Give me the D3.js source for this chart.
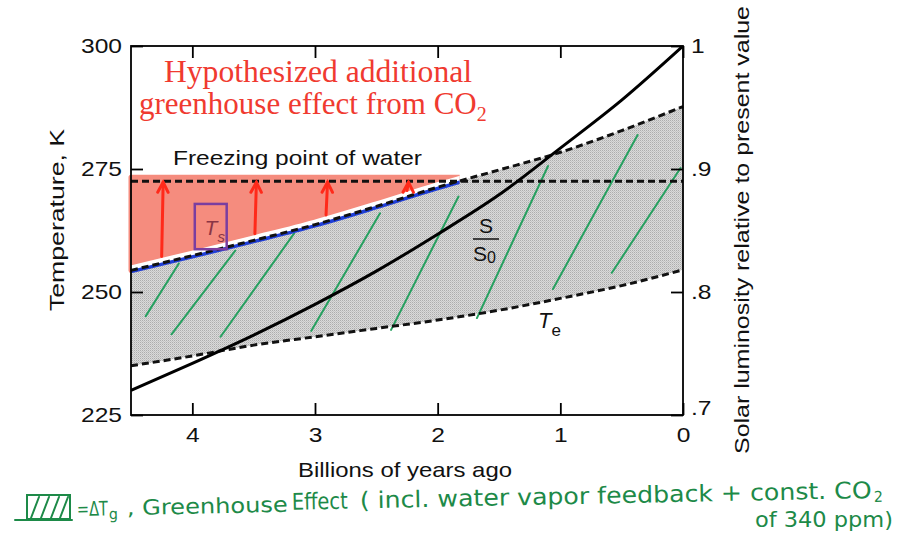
<!DOCTYPE html>
<html>
<head>
<meta charset="utf-8">
<script src="https://cdn.jsdelivr.net/npm/d3@7"></script>
<style>
  body { margin: 0; background: #fff; }
  text { font-family: "Liberation Sans", Arial, sans-serif; }
  text.serif { font-family: "Liberation Serif", "Times New Roman", serif; }
  text.hand { font-family: "DejaVu Sans Condensed", "Liberation Sans Narrow", "Liberation Sans", sans-serif; }
</style>
</head>
<body>
<div id="chart"></div>
<script>
// data
var years = [4.5, 4, 3.5, 3, 2.5, 2, 1.5, 1, 0.5, 0];
var surfaceTemp = [254.4, 257.4, 260.5, 263.7, 267.4, 271.3, 274.8, 278.4, 282.8, 287.7];   // Ts, K
var effectiveTemp = [235, 237, 239.2, 240.9, 242.6, 244.3, 246.3, 248.7, 251.3, 254.5];     // Te, K
var solarLum = [0.720, 0.742, 0.765, 0.790, 0.817, 0.847, 0.879, 0.917, 0.956, 1.0];       // S/S0
var freezingPoint = 272.5;
var xTicks = [4, 3, 2, 1, 0];
var leftTicks = [300, 275, 250, 225];
var rightTicks = [1, 0.9, 0.8, 0.7];
var rightTickLabels = ["1", ".9", ".8", ".7"];
var arrowYears = [4.25, 3.49, 2.91, 2.25];
// green hand-drawn hatch strokes: [year0, T0, year1, T1]
var hatchStrokes = [
  [4.38, 245.1, 4.11, 255.8],
  [4.17, 241.4, 3.65, 258.4],
  [3.77, 240.9, 3.17, 261.9],
  [3.03, 242.1, 2.47, 266.0],
  [2.38, 242.3, 1.83, 269.4],
  [1.68, 244.7, 1.10, 275.6],
  [1.06, 250.6, 0.37, 281.9],
  [0.58, 253.9, 0.02, 275.2]
];

var svg = d3.select("#chart").append("svg")
  .attr("width", 906)
  .attr("height", 546);

var x = d3.scaleLinear().domain([4.5, 0]).range([131, 683]);
var y = d3.scaleLinear().domain([225, 300]).range([415, 46]);
var yLum = d3.scaleLinear().domain([0.7, 1]).range([415, 46]);
var tsAt = d3.scaleLinear().domain(years).range(surfaceTemp);

var rows = years.map(function(yr, i) {
  return {yr: yr, ts: surfaceTemp[i], te: effectiveTemp[i], s: solarLum[i]};
});

// where Ts reaches the freezing line
var crossYear = 0;
for (var i = 1; i < rows.length; i++) {
  if (rows[i - 1].ts < freezingPoint && rows[i].ts >= freezingPoint) {
    var t = (freezingPoint - rows[i - 1].ts) / (rows[i].ts - rows[i - 1].ts);
    crossYear = rows[i - 1].yr + t * (rows[i].yr - rows[i - 1].yr);
  }
}

// stretch text to a target width (the original font runs wide)
function stretch(sel, k) {
  sel.each(function() {
    var w = this.getComputedTextLength();
    d3.select(this).attr("textLength", w * k).attr("lengthAdjust", "spacingAndGlyphs");
  });
}

var defs = svg.append("defs");
var pat = defs.append("pattern")
  .attr("id", "halftone")
  .attr("width", 2).attr("height", 2)
  .attr("patternUnits", "userSpaceOnUse");
pat.append("rect").attr("width", 2).attr("height", 2).attr("fill", "#dadada");
pat.append("rect").attr("width", 1).attr("height", 1).attr("fill", "#adadad");
pat.append("rect").attr("x", 1).attr("y", 1).attr("width", 1).attr("height", 1).attr("fill", "#c4c4c4");

defs.append("clipPath").attr("id", "warm")
  .append("rect")
  .attr("x", 120).attr("y", 0)
  .attr("width", x(crossYear) + 1 - 120).attr("height", 546);

defs.append("clipPath").attr("id", "plot")
  .append("rect")
  .attr("x", 131).attr("y", 46)
  .attr("width", 552).attr("height", 369);

var curve = d3.curveMonotoneX;

// gray band between Te and Ts
svg.append("path")
  .datum(rows)
  .attr("fill", "url(#halftone)")
  .attr("d", d3.area()
    .x(function(d) { return x(d.yr); })
    .y0(function(d) { return y(d.te); })
    .y1(function(d) { return y(d.ts); })
    .curve(curve));

// green hatch
svg.append("g")
  .selectAll("line")
  .data(hatchStrokes)
  .enter()
  .append("line")
  .attr("x1", function(d) { return x(d[0]); })
  .attr("y1", function(d) { return y(d[1]); })
  .attr("x2", function(d) { return x(d[2]); })
  .attr("y2", function(d) { return y(d[3]); })
  .attr("stroke", "#27a060")
  .attr("stroke-width", 2)
  .attr("stroke-linecap", "round");

// salmon highlight: hypothesized CO2 greenhouse
svg.append("path")
  .datum(rows)
  .attr("clip-path", "url(#warm)")
  .attr("fill", "#f58c7e")
  .attr("stroke", "#f58c7e")
  .attr("stroke-width", 5)
  .attr("stroke-linejoin", "round")
  .attr("d", d3.area()
    .x(function(d) { return x(d.yr); })
    .y0(function(d) { return y(d.ts); })
    .y1(function(d) { return y(freezingPoint + 0.8); })
    .curve(curve));

var tsLine = d3.line()
  .x(function(d) { return x(d.yr); })
  .y(function(d) { return y(d.ts); })
  .curve(curve);

svg.append("path")
  .datum(rows)
  .attr("clip-path", "url(#warm)")
  .attr("transform", "translate(0,-2.5)")
  .attr("fill", "none")
  .attr("stroke", "#fff")
  .attr("stroke-width", 5)
  .attr("d", tsLine);

svg.append("path")
  .datum(rows)
  .attr("clip-path", "url(#warm)")
  .attr("transform", "translate(0,1.3)")
  .attr("fill", "none")
  .attr("stroke", "#1f3fd8")
  .attr("stroke-width", 3.5)
  .attr("d", tsLine);

// freezing point
svg.append("line")
  .attr("x1", x(4.5)).attr("x2", x(0))
  .attr("y1", y(freezingPoint)).attr("y2", y(freezingPoint))
  .attr("stroke", "#111")
  .attr("stroke-width", 3)
  .attr("stroke-dasharray", "7,4");

// Ts and Te
svg.append("path")
  .datum(rows)
  .attr("fill", "none")
  .attr("stroke", "#111")
  .attr("stroke-width", 3)
  .attr("stroke-dasharray", "7,4")
  .attr("d", tsLine);

svg.append("path")
  .datum(rows)
  .attr("fill", "none")
  .attr("stroke", "#111")
  .attr("stroke-width", 3)
  .attr("stroke-dasharray", "7,4")
  .attr("d", d3.line()
    .x(function(d) { return x(d.yr); })
    .y(function(d) { return y(d.te); })
    .curve(curve));

// solar luminosity
svg.append("path")
  .datum(rows)
  .attr("clip-path", "url(#plot)")
  .attr("fill", "none")
  .attr("stroke", "#000")
  .attr("stroke-width", 3)
  .attr("d", d3.line()
    .x(function(d) { return x(d.yr); })
    .y(function(d) { return yLum(d.s); })
    .curve(curve));

// red arrows
var arrows = svg.append("g")
  .attr("stroke", "#ff2a1a")
  .attr("stroke-width", 3)
  .attr("stroke-linecap", "round")
  .attr("fill", "none");
arrowYears.forEach(function(a) {
  var x0 = x(a), yb = y(tsAt(a) + 1.3), yt = y(freezingPoint) + 1;
  arrows.append("path")
    .attr("d", "M" + x0 + "," + yb + "L" + (x0 + 1.5) + "," + yt);
  arrows.append("path")
    .attr("d", "M" + (x0 - 4) + "," + (yt + 10) + "L" + (x0 + 1.5) + "," + yt + "L" + (x0 + 6.5) + "," + (yt + 10));
});

// Ts box
svg.append("rect")
  .attr("x", x(3.98)).attr("y", y(267.9))
  .attr("width", x(3.72) - x(3.98)).attr("height", y(258.7) - y(267.9))
  .attr("fill", "none")
  .attr("stroke", "#7a3ea0")
  .attr("stroke-width", 2.5);
var tsLabel = svg.append("text")
  .attr("x", x(3.9)).attr("y", y(261.5))
  .attr("fill", "#8a3545")
  .attr("font-size", 21)
  .attr("font-style", "italic");
tsLabel.append("tspan").text("T");
tsLabel.append("tspan").attr("dy", 7).attr("font-size", 15).text("s");

// frame
svg.append("rect")
  .attr("x", 131).attr("y", 46)
  .attr("width", 552).attr("height", 369)
  .attr("fill", "none")
  .attr("stroke", "#000")
  .attr("stroke-width", 1.8);

// axes, ticks inward
var axL = svg.append("g").attr("transform", "translate(131,0)")
  .call(d3.axisLeft(y).tickValues(leftTicks).tickSize(-12).tickPadding(9));
var axB = svg.append("g").attr("transform", "translate(0,415)")
  .call(d3.axisBottom(x).tickValues(xTicks).tickSize(-12).tickPadding(12).tickFormat(d3.format("d")));
var axT = svg.append("g").attr("transform", "translate(0,46)")
  .call(d3.axisTop(x).tickValues(xTicks).tickSize(-12).tickFormat(""));
var axR = svg.append("g").attr("transform", "translate(683,0)")
  .call(d3.axisRight(yLum).tickValues(rightTicks).tickSize(-12).tickPadding(8)
    .tickFormat(function(d, i) { return rightTickLabels[i]; }));

[axL, axB, axT, axR].forEach(function(ax) {
  ax.select(".domain").remove();
  ax.selectAll("line").attr("stroke", "#000").attr("stroke-width", 1.8);
  ax.selectAll("text")
    .attr("font-size", 21)
    .attr("font-family", "Liberation Sans, Arial, sans-serif")
    .attr("fill", "#111")
    .call(stretch, 1.17);
});
axR.selectAll("text").filter(function(d) { return d === 0.7; }).attr("y", -7);

// axis titles
svg.append("text")
  .attr("transform", "translate(64,220) rotate(-90)")
  .attr("text-anchor", "middle")
  .attr("font-size", 21)
  .attr("fill", "#111")
  .text("Temperature, K")
  .attr("textLength", 182).attr("lengthAdjust", "spacingAndGlyphs");

svg.append("text")
  .attr("x", 405).attr("y", 477)
  .attr("text-anchor", "middle")
  .attr("font-size", 21)
  .attr("fill", "#111")
  .text("Billions of years ago")
  .attr("textLength", 214).attr("lengthAdjust", "spacingAndGlyphs");

svg.append("text")
  .attr("transform", "translate(749,230) rotate(-90)")
  .attr("text-anchor", "middle")
  .attr("font-size", 21)
  .attr("fill", "#111")
  .text("Solar luminosity relative to present value")
  .attr("textLength", 448).attr("lengthAdjust", "spacingAndGlyphs");

// annotations
svg.append("text")
  .attr("x", 173).attr("y", 165)
  .attr("font-size", 21)
  .attr("fill", "#111")
  .text("Freezing point of water")
  .attr("textLength", 249).attr("lengthAdjust", "spacingAndGlyphs");

svg.append("text")
  .attr("class", "serif")
  .attr("x", 164).attr("y", 82)
  .attr("font-size", 31)
  .attr("fill", "#f03a30")
  .text("Hypothesized additional")
  .attr("textLength", 308).attr("lengthAdjust", "spacingAndGlyphs");
var t2 = svg.append("text")
  .attr("class", "serif")
  .attr("x", 139).attr("y", 114)
  .attr("font-size", 31)
  .attr("fill", "#f03a30");
t2.append("tspan").text("greenhouse effect from CO");
t2.append("tspan").attr("dy", 7).attr("font-size", 20).text("2");

svg.append("line")
  .attr("x1", 473).attr("x2", 499)
  .attr("y1", 239).attr("y2", 239)
  .attr("stroke", "#111").attr("stroke-width", 1.5);
svg.append("text")
  .attr("x", 486).attr("y", 233)
  .attr("text-anchor", "middle")
  .attr("font-size", 21).attr("fill", "#111")
  .text("S");
var s0 = svg.append("text")
  .attr("x", 473).attr("y", 261)
  .attr("font-size", 21).attr("fill", "#111");
s0.append("tspan").text("S");
s0.append("tspan").attr("dy", 2).attr("font-size", 16).text("0");

var te = svg.append("text")
  .attr("x", 538).attr("y", 328)
  .attr("font-size", 22).attr("fill", "#111")
  .attr("font-style", "italic");
te.append("tspan").text("T");
te.append("tspan").attr("dy", 8).attr("font-size", 17).attr("font-style", "normal").text("e");

// green handwritten note
var green = "#1d8a48";
var note = svg.append("g").attr("fill", green);

var icon = svg.append("g")
  .attr("stroke", green)
  .attr("stroke-width", 2)
  .attr("fill", "none")
  .attr("stroke-linecap", "round");
icon.append("rect").attr("x", 27).attr("y", 495).attr("width", 43).attr("height", 24);
icon.append("line").attr("x1", 15).attr("x2", 72).attr("y1", 520).attr("y2", 520);
[31, 41, 51, 60].forEach(function(px) {
  icon.append("line").attr("x1", px).attr("y1", 518).attr("x2", px + 8).attr("y2", 497);
});

var line1 = note.append("g").attr("transform", "rotate(-1.15,77,516)");
var seg = [
  {txt: "=ΔT", x: 77, w: 31, fs: 20, dy: 0},
  {txt: "g", x: 109, w: 9, fs: 15, dy: 4},
  {txt: ", Greenhouse", x: 127, w: 161, fs: 21, dy: 0},
  {txt: "Effect", x: 292, w: 56, fs: 23, dy: -2},
  {txt: "( incl. water vapor feedback + const. CO", x: 360, w: 512, fs: 23, dy: -2},
  {txt: "2", x: 874, w: 9, fs: 15, dy: 2}
];
seg.forEach(function(s) {
  line1.append("text")
    .attr("class", "hand")
    .attr("x", s.x).attr("y", 516 + s.dy)
    .attr("font-size", s.fs)
    .text(s.txt)
    .attr("textLength", s.w).attr("lengthAdjust", "spacingAndGlyphs");
});
note.append("text")
  .attr("class", "hand")
  .attr("x", 755).attr("y", 527)
  .attr("font-size", 21)
  .text("of 340 ppm)")
  .attr("textLength", 138).attr("lengthAdjust", "spacingAndGlyphs");
</script>
</body>
</html>
